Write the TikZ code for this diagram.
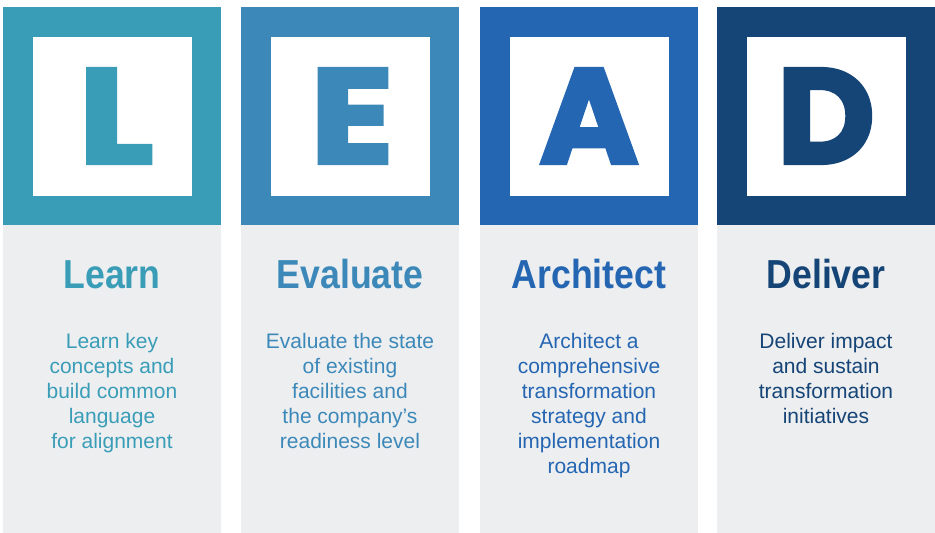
\documentclass[tikz,border=0pt]{standalone}
\usepackage{fontspec}
\setmainfont{Liberation Sans}
\newfontfamily\letterfont{Poppins}[BoldFeatures={FakeBold=2.5}]
\newfontfamily\titlefont{Liberation Sans}[FakeStretch=0.88]
\definecolor{cL}{HTML}{3A9DB8}
\definecolor{cE}{HTML}{3C89B9}
\definecolor{cA}{HTML}{2566B2}
\definecolor{cD}{HTML}{154476}
\definecolor{panel}{HTML}{EDEEF0}
\tikzset{
  bigletter/.style={inner sep=0pt, font=\letterfont\bfseries\fontsize{135}{135}\selectfont},
  titletext/.style={inner sep=0pt, anchor=base, font=\titlefont\bfseries\fontsize{40.5}{40.5}\selectfont},
  bodytext/.style={inner sep=0pt, anchor=base, font=\fontsize{21}{25}\selectfont},
}
\newcommand{\leadcol}[8]{%
  % #1 name, #2 x0, #3 colour, #4 letter, #5 title, #6 lines, #7 letter x-scale, #8 letter x offset
  \fill[panel] (#2,225) rectangle ++(218,308);
  \fill[#3] (#2,7) rectangle ++(218,218);
  \fill[white] ($(#2,7)+(30,30)$) rectangle ++(159,159);
  \node[bigletter, text=#3, xscale=#7] (#1letter) at ($(#2,116)+(#8,0)$) {#4};
  \node[titletext, text=#3] (#1title) at ($(#2,288)+(109,0)$) {#5};
  \foreach \t [count=\i] in {#6} {
    \node[bodytext, text=#3] (#1line\i) at ($(#2,348)+(109,25*\i-25)$) {\t};
  }
}
\usetikzlibrary{calc}
\begin{document}
\begin{tikzpicture}[x=1pt,y=-1pt]
\useasboundingbox (0,0) rectangle (935,533);
\fill[white] (0,0) rectangle (935,533);
\leadcol{l}{3}{cL}{L}{Learn}{Learn key,concepts and,build common,language,for alignment}{1.17}{113}
\leadcol{e}{241}{cE}{E}{Evaluate}{Evaluate the state,of existing,facilities and,the company’s,readiness level}{1.15}{111}
\leadcol{a}{480}{cA}{A}{Architect}{Architect a,comprehensive,transformation,strategy and,implementation,roadmap}{1}{109}
\leadcol{d}{717}{cD}{D}{Deliver}{Deliver impact,and sustain,transformation,initiatives}{1}{109}
\end{tikzpicture}
\end{document}
